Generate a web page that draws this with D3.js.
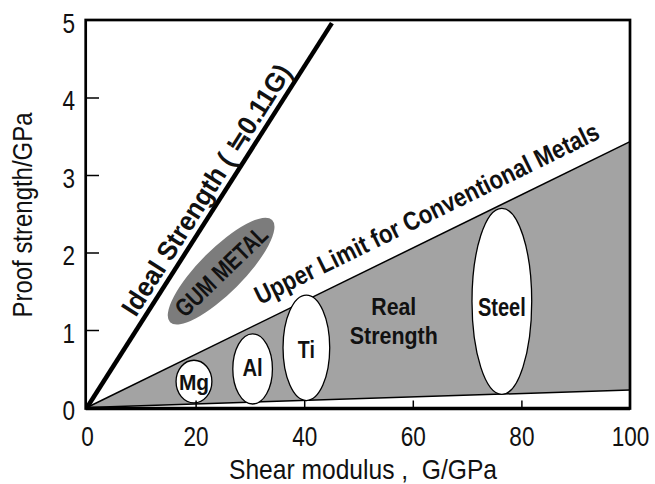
<!DOCTYPE html>
<html>
<head>
<meta charset="utf-8">
<script src="https://cdn.jsdelivr.net/npm/d3@7"></script>
<style>
  body { margin: 0; background: #fff; }
  text { font-family: "Liberation Sans", Arial, sans-serif; fill: #111; }
</style>
</head>
<body>
<div id="chart"></div>
<script>
// tick values
var gTicks = [0, 20, 40, 60, 80, 100];
var sTicks = [0, 1, 2, 3, 4, 5];

// boundary lines (shear modulus G / strength, both GPa)
var idealG = [0, 45.1];
var idealS = [0, 4.96];
var upperG = [0, 100];
var upperS = [0, 3.43];
var lowerS = [0, 0.226];

// conventional metals: G centre, G half spread, strength range
var alloyNames = ["Mg", "Al", "Ti", "Steel"];
var alloyG = [19.7, 30.5, 40.4, 76.4];
var alloyGHalf = [3.3, 3.65, 4.3, 5.5];
var alloySMin = [0.06, 0.045, 0.09, 0.17];
var alloySMax = [0.61, 0.95, 1.45, 2.57];

// gum metal, ends of the long axis
var gumG = [15.3, 34.1];
var gumS = [1.10, 2.42];

// label look (not data)
var alloyFont = [22, 23, 23, 25];
var alloySquash = [0.95, 0.88, 0.85, 0.8];
var alloyDy = [8, 7.5, 10, 15];

var margin = {top: 20, right: 25, bottom: 76.5, left: 87},
    width = 543,
    height = 387.5;

var svg = d3.select("#chart")
    .append("svg")
        .attr("width", width + margin.left + margin.right)
        .attr("height", height + margin.top + margin.bottom)
    .append("g")
        .attr("transform", "translate(" + margin.left + "," + margin.top + ")");

var x = d3.scaleLinear().domain([0, 100]).range([0, width]);
var y = d3.scaleLinear().domain([0, 5]).range([height, 0]);

function squash(sel, k) {
    sel.each(function() {
        var w = this.getComputedTextLength();
        d3.select(this).attr("textLength", w * k).attr("lengthAdjust", "spacingAndGlyphs");
    });
}

// real strength band
var band = upperG.map(function(g, i) { return {g: g, lo: lowerS[i], hi: upperS[i]}; });
svg.append("path")
    .datum(band)
    .attr("fill", "#a3a3a3")
    .attr("d", d3.area()
        .x(function(d) { return x(d.g); })
        .y0(function(d) { return y(d.lo); })
        .y1(function(d) { return y(d.hi); }));

var line = d3.line()
    .x(function(d) { return x(d[0]); })
    .y(function(d) { return y(d[1]); });

svg.append("path")
    .attr("fill", "none").attr("stroke", "#000").attr("stroke-width", 1.5)
    .attr("d", line(upperG.map(function(g, i) { return [g, upperS[i]]; })));
svg.append("path")
    .attr("fill", "none").attr("stroke", "#000").attr("stroke-width", 1.5)
    .attr("d", line(upperG.map(function(g, i) { return [g, lowerS[i]]; })));

// gum metal ellipse
var g1 = [x(gumG[0]), y(gumS[0])], g2 = [x(gumG[1]), y(gumS[1])];
var gumCx = (g1[0] + g2[0]) / 2, gumCy = (g1[1] + g2[1]) / 2;
var gumAng = Math.atan2(g2[1] - g1[1], g2[0] - g1[0]) * 180 / Math.PI;
var gumRx = Math.hypot(g2[0] - g1[0], g2[1] - g1[1]) / 2;
svg.append("ellipse")
    .attr("transform", "translate(" + gumCx + "," + gumCy + ") rotate(" + gumAng + ")")
    .attr("rx", gumRx)
    .attr("ry", 22)
    .attr("fill", "#7c7c7c");
svg.append("text")
    .attr("transform", "translate(" + gumCx + "," + gumCy + ") rotate(" + (gumAng + 1) + ")")
    .attr("text-anchor", "middle")
    .attr("dy", "0.36em")
    .style("font-size", "25px")
    .style("font-weight", "bold")
    .attr("textLength", 118)
    .attr("lengthAdjust", "spacingAndGlyphs")
    .text("GUM METAL");

// alloy ellipses
alloyNames.forEach(function(name, i) {
    var cx = x(alloyG[i]),
        cy = y((alloySMin[i] + alloySMax[i]) / 2),
        rx = x(alloyG[i] + alloyGHalf[i]) - cx,
        ry = (y(alloySMin[i]) - y(alloySMax[i])) / 2;
    svg.append("ellipse")
        .attr("cx", cx).attr("cy", cy).attr("rx", rx).attr("ry", ry)
        .attr("fill", "#fff").attr("stroke", "#000").attr("stroke-width", 1.3);
    var t = svg.append("text")
        .attr("x", cx).attr("y", cy + alloyDy[i])
        .attr("text-anchor", "middle")
        .style("font-size", alloyFont[i] + "px")
        .style("font-weight", "bold")
        .text(name);
    squash(t, alloySquash[i]);
});

// ideal strength line
svg.append("path")
    .attr("fill", "none").attr("stroke", "#000").attr("stroke-width", 4.5)
    .attr("d", line(idealG.map(function(g, i) { return [g, idealS[i]]; })));

// frame
svg.append("rect")
    .attr("x", -1.3).attr("y", 0)
    .attr("width", width + 1.3).attr("height", height + 1)
    .attr("fill", "none").attr("stroke", "#000").attr("stroke-width", 2.7);
svg.append("line")
    .attr("x1", -1.3).attr("x2", width)
    .attr("y1", height + 1).attr("y2", height + 1)
    .attr("stroke", "#000").attr("stroke-width", 3.5);

// axes
var yAxis = svg.append("g")
    .call(d3.axisLeft(y).tickValues(sTicks).tickSizeInner(-12).tickSizeOuter(0)
        .tickPadding(12).tickFormat(d3.format("d")));
var xAxis = svg.append("g")
    .attr("transform", "translate(0," + height + ")")
    .call(d3.axisBottom(x).tickValues(gTicks).tickSizeInner(-7).tickSizeOuter(0)
        .tickPadding(19).tickFormat(d3.format("d")));

[yAxis, xAxis].forEach(function(ax) {
    ax.select(".domain").remove();
    ax.selectAll(".tick line").attr("stroke", "#000").attr("stroke-width", 1.5);
    ax.selectAll(".tick").filter(function(d) { return d === 0 || d === 5 || d === 100; })
        .select("line").remove();
    ax.selectAll(".tick text").style("font-size", "27.5px").attr("fill", "#111");
});
yAxis.selectAll(".tick text").attr("dy", "0.44em");
squash(yAxis.selectAll(".tick text"), 0.82);
squash(xAxis.selectAll(".tick text"), 0.82);

svg.append("text")
    .attr("x", 276)
    .attr("y", 459)
    .attr("text-anchor", "middle")
    .style("font-size", "28px")
    .attr("textLength", 268)
    .attr("lengthAdjust", "spacingAndGlyphs")
    .text("Shear modulus ,\u00a0\u00a0G/GPa");

svg.append("text")
    .attr("transform", "translate(-55,195) rotate(-90)")
    .attr("text-anchor", "middle")
    .style("font-size", "28px")
    .attr("textLength", 205)
    .attr("lengthAdjust", "spacingAndGlyphs")
    .text("Proof strength/GPa");

// line labels
var idealAng = Math.atan2(y(idealS[1]) - y(0), x(idealG[1]) - x(0)) * 180 / Math.PI;
var idealAt = 24.5;
svg.append("text")
    .attr("transform", "translate(" + x(idealAt) + "," + y(idealS[1] / idealG[1] * idealAt) + ") rotate(" + idealAng + ")")
    .attr("y", -7)
    .attr("text-anchor", "middle")
    .style("font-size", "27px")
    .style("font-weight", "bold")
    .attr("textLength", 292)
    .attr("lengthAdjust", "spacingAndGlyphs")
    .text("Ideal Strength ( \u22520.11G)");

var upperAng = Math.atan2(y(upperS[1]) - y(0), x(upperG[1]) - x(0)) * 180 / Math.PI;
var upperAt = 64.6;
svg.append("text")
    .attr("transform", "translate(" + x(upperAt) + "," + y(upperS[1] / upperG[1] * upperAt) + ") rotate(" + upperAng + ")")
    .attr("y", -16)
    .attr("text-anchor", "middle")
    .style("font-size", "26px")
    .style("font-weight", "bold")
    .attr("textLength", 380)
    .attr("lengthAdjust", "spacingAndGlyphs")
    .text("Upper Limit for Conventional Metals");

var real = svg.append("text")
    .attr("x", x(56.5))
    .attr("y", y(1.19))
    .attr("text-anchor", "middle")
    .style("font-size", "24px")
    .style("font-weight", "bold");
real.append("tspan").attr("x", x(56.5)).attr("textLength", 45).attr("lengthAdjust", "spacingAndGlyphs").text("Real");
real.append("tspan").attr("x", x(56.5)).attr("dy", 29).attr("textLength", 88).attr("lengthAdjust", "spacingAndGlyphs").text("Strength");
</script>
</body>
</html>
